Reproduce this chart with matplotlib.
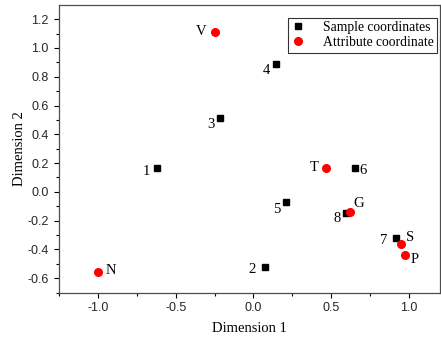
import numpy as np
import matplotlib
matplotlib.use('agg')
import matplotlib.pyplot as plt

# sample coordinates (black squares)
sample_labels = ['1', '2', '3', '4', '5', '6', '7', '8']
sample_x = [-0.617, 0.074, -0.215, 0.147, 0.209, 0.656, 0.915, 0.596]
sample_y = [0.169, -0.519, 0.512, 0.887, -0.072, 0.169, -0.322, -0.144]

# attribute coordinates (red circles)
attr_labels = ['V', 'T', 'G', 'S', 'P', 'N']
attr_x = [-0.245, 0.468, 0.619, 0.947, 0.975, -1.0]
attr_y = [1.112, 0.169, -0.139, -0.363, -0.436, -0.556]

# label offsets in pixels (dx, dy)
sample_off = [(-11, -4), (-13, -3), (-9, -6), (-10, -6), (-9, -7), (8, -3), (-12, -2), (-9, -6)]
attr_off = [(-14, 0), (-12, 0), (9, 8), (9, 7), (10, -5), (13, 1)]

serif = 'Liberation Serif'
sans = 'Liberation Sans'

fig = plt.figure(figsize=(4.41, 3.37), dpi=100)
ax = fig.add_axes([0.1338, 0.1315, 0.8639, 0.8545])

ax.plot(sample_x, sample_y, 's', color='black', markersize=5, linestyle='none',
        label='Sample coordinates', zorder=3)
ax.plot(attr_x, attr_y, 'o', color='#ff0000', markersize=5.5, linestyle='none',
        label='Attribute coordinate', zorder=4)

for lab, x, y, off in zip(sample_labels, sample_x, sample_y, sample_off):
    ax.annotate(lab, (x, y), xytext=off, textcoords='offset pixels',
                ha='center', va='center', fontsize=10.5, family=serif)
for lab, x, y, off in zip(attr_labels, attr_x, attr_y, attr_off):
    ax.annotate(lab, (x, y), xytext=off, textcoords='offset pixels',
                ha='center', va='center', fontsize=10.5, family=serif)

ax.set_xlim(-1.25, 1.2)
ax.set_ylim(-0.7, 1.3)
ax.set_xticks([-1.0, -0.5, 0.0, 0.5, 1.0])
ax.set_xticks(np.arange(-1.25, 1.2, 0.25), minor=True)
ax.set_yticks([-0.6, -0.4, -0.2, 0.0, 0.2, 0.4, 0.6, 0.8, 1.0, 1.2])
ax.set_yticks(np.arange(-0.7, 1.3, 0.1), minor=True)
ax.set_xticklabels(['-1.0', '-0.5', '0.0', '0.5', '1.0'])
ax.set_yticklabels(['-0.6', '-0.4', '-0.2', '0.0', '0.2', '0.4', '0.6', '0.8', '1.0', '1.2'])

ax.tick_params(which='major', direction='out', length=3.5, width=0.8, labelsize=9)
ax.tick_params(axis='x', which='major', pad=3)
ax.tick_params(axis='y', which='major', pad=4)
ax.tick_params(which='minor', direction='out', length=2.5, width=0.8)
for t in ax.get_xticklabels() + ax.get_yticklabels():
    t.set_family(sans)
    t.set_color('0.15')
for s in ax.spines.values():
    s.set_color('0.3')
    s.set_linewidth(0.9)

ax.set_xlabel('Dimension 1', fontsize=10.5, family=serif, labelpad=6)
ax.set_ylabel('Dimension 2', fontsize=10.5, family=serif, labelpad=1)

leg = ax.legend(loc='upper right', bbox_to_anchor=(0.992, 0.955), fancybox=False,
                edgecolor='black', prop={'family': serif, 'size': 9.8},
                handlelength=1.0, handletextpad=1.3, borderpad=0.25, labelspacing=0.15,
                borderaxespad=0)
leg.get_frame().set_linewidth(0.8)

fig.savefig('out.png', dpi=100)
